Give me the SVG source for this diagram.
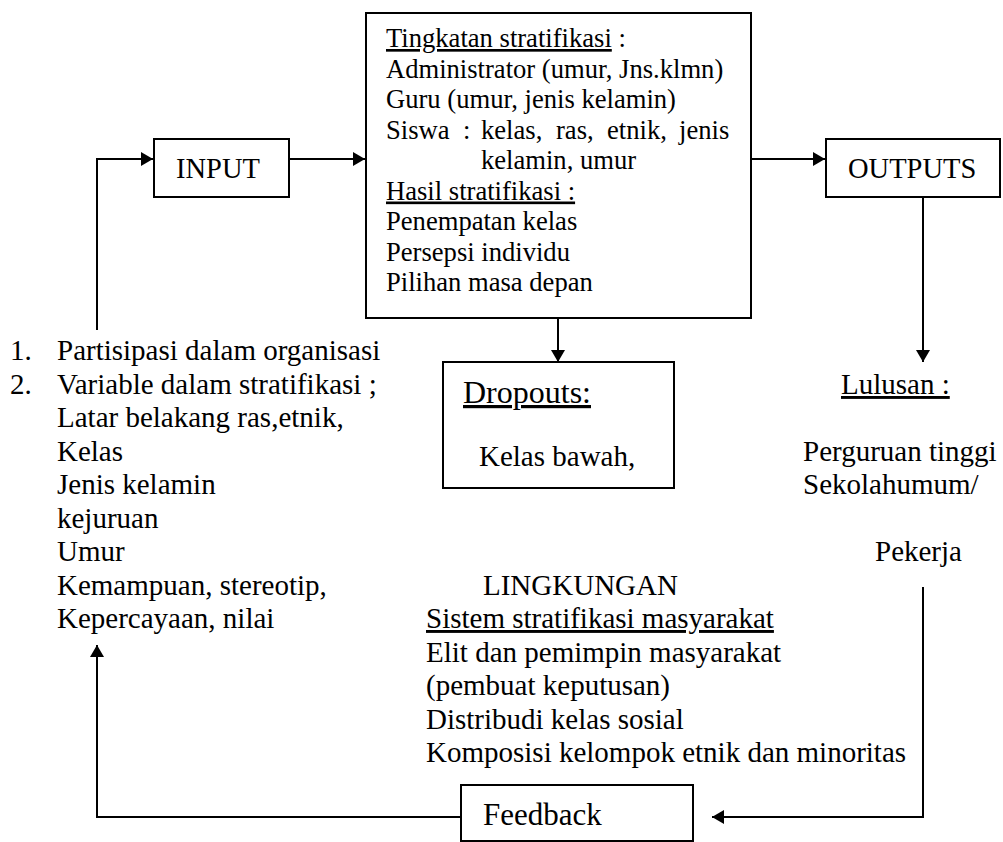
<svg xmlns="http://www.w3.org/2000/svg" width="1003" height="842" viewBox="0 0 1003 842">
<defs>
<style>
.box{fill:#fff;stroke:#000;stroke-width:2}
.ln{fill:none;stroke:#000;stroke-width:2}
text{font-family:"Liberation Serif","Times New Roman",serif;fill:#000}
.t26{font-size:26.6px}
.t29{font-size:29px}
.u{text-decoration:underline}
</style>
<marker id="ah" viewBox="0 0 12 14" refX="12" refY="7" markerWidth="12" markerHeight="14" markerUnits="userSpaceOnUse" orient="auto">
<path d="M0,0 L12,7 L0,14 Z" fill="#000"/>
</marker>
</defs>
<rect width="1003" height="842" fill="#fff"/>

<g id="connectors">
<path class="ln" d="M97,330 V159 H153" marker-end="url(#ah)"/>
<path class="ln" d="M289,159 H365" marker-end="url(#ah)"/>
<path class="ln" d="M751,159 H825" marker-end="url(#ah)"/>
<path class="ln" d="M558,318 V362" marker-end="url(#ah)"/>
<path class="ln" d="M923,198 V362" marker-end="url(#ah)"/>
<path class="ln" d="M923,587 V817 H712" marker-end="url(#ah)"/>
<path class="ln" d="M461,817 H97 V645" marker-end="url(#ah)"/>
</g>

<g id="input">
<rect class="box" x="154" y="139" width="135" height="58"/>
<text x="176" y="178" font-size="28.5">INPUT</text>
</g>

<g id="process">
<rect class="box" x="366" y="13" width="385" height="305"/>
<text class="t26">
<tspan x="386" y="47"><tspan class="u">Tingkatan stratifikasi</tspan> :</tspan>
<tspan x="386" y="77.5">Administrator (umur, Jns.klmn)</tspan>
<tspan x="386" y="108">Guru (umur, jenis kelamin)</tspan>
<tspan x="386" y="138.5">Siswa</tspan><tspan x="463" y="138.5">:</tspan><tspan x="481" y="138.5">kelas,</tspan><tspan x="556" y="138.5">ras,</tspan><tspan x="607" y="138.5">etnik,</tspan><tspan x="679" y="138.5">jenis</tspan>
<tspan x="481" y="169">kelamin, umur</tspan>
<tspan x="386" y="199.5" class="u">Hasil stratifikasi :</tspan>
<tspan x="386" y="230">Penempatan kelas</tspan>
<tspan x="386" y="260.5">Persepsi individu</tspan>
<tspan x="386" y="291">Pilihan masa depan</tspan>
</text>
</g>

<g id="outputs">
<rect class="box" x="826" y="139" width="174" height="58"/>
<text x="848" y="178" font-size="28.5">OUTPUTS</text>
</g>

<g id="dropouts">
<rect class="box" x="443" y="362" width="231" height="126"/>
<text x="463" y="403" font-size="32" class="u">Dropouts:</text>
<text x="479" y="466" class="t29">Kelas bawah,</text>
</g>

<g id="lulusan">
<text x="841" y="394" class="t29 u">Lulusan :</text>
<text x="803" y="461" class="t29">Perguruan tinggi</text>
<text x="803" y="494" class="t29">Sekolahumum/</text>
<text x="875" y="561" class="t29">Pekerja</text>
</g>

<g id="inputs-list">
<text class="t29">
<tspan x="10" y="360">1.</tspan><tspan x="57" y="360">Partisipasi dalam organisasi</tspan>
<tspan x="10" y="394">2.</tspan><tspan x="57" y="394">Variable dalam stratifikasi ;</tspan>
<tspan x="57" y="427">Latar belakang ras,etnik,</tspan>
<tspan x="57" y="461">Kelas</tspan>
<tspan x="57" y="494">Jenis kelamin</tspan>
<tspan x="57" y="528">kejuruan</tspan>
<tspan x="57" y="561">Umur</tspan>
<tspan x="57" y="595">Kemampuan, stereotip,</tspan>
<tspan x="57" y="628">Kepercayaan, nilai</tspan>
</text>
</g>

<g id="lingkungan">
<text class="t29">
<tspan x="483" y="595">LINGKUNGAN</tspan>
<tspan x="426" y="628" class="u">Sistem stratifikasi masyarakat</tspan>
<tspan x="426" y="662">Elit dan pemimpin masyarakat</tspan>
<tspan x="426" y="695">(pembuat keputusan)</tspan>
<tspan x="426" y="729">Distribudi kelas sosial</tspan>
<tspan x="426" y="762">Komposisi kelompok etnik dan minoritas</tspan>
</text>
</g>

<g id="feedback">
<rect class="box" x="461" y="785" width="232" height="56"/>
<text x="483" y="825" font-size="31">Feedback</text>
</g>
</svg>
